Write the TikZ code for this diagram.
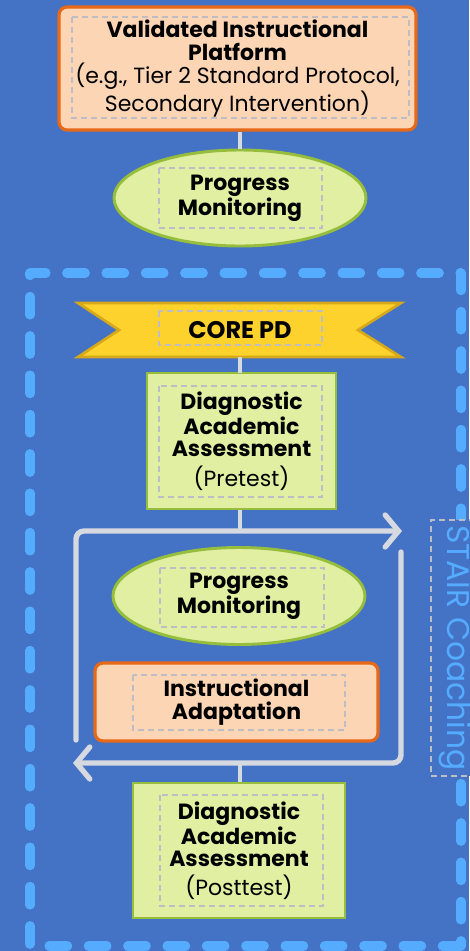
\documentclass[tikz,border=0pt]{standalone}
\usepackage{fontspec}
\setmainfont{Poppins}
\usetikzlibrary{shapes.geometric,arrows.meta}
\definecolor{bg}{RGB}{68,114,196}
\definecolor{peach}{RGB}{252,213,181}
\definecolor{orangeb}{RGB}{230,105,25}
\definecolor{lgreen}{RGB}{224,239,162}
\definecolor{gborder}{RGB}{150,190,60}
\definecolor{gold}{RGB}{253,210,45}
\definecolor{goldb}{RGB}{215,168,25}
\definecolor{framec}{RGB}{85,172,255}
\definecolor{connc}{RGB}{214,217,224}
\definecolor{dashc}{RGB}{190,188,196}
\begin{document}
\begin{tikzpicture}[x=0.75pt,y=-0.75pt,
  txt/.style={font=\fontsize{16.5pt}{16.8pt}\selectfont\bfseries, align=center, text=black},
  peachbox/.style={txt, draw=orangeb, fill=peach, line width=2.4pt, rounded corners=6pt, inner sep=0pt},
  greenbox/.style={txt, draw=gborder, fill=lgreen, line width=2.2pt, inner sep=0pt},
  greenell/.style={txt, ellipse, draw=gborder, fill=lgreen, line width=2.2pt, inner sep=0pt},
  innerdash/.style={draw=dashc, line width=1.1pt, dash pattern=on 4.5pt off 3pt},
  conn/.style={draw=connc, line width=3.2pt},
  loopline/.style={draw=connc, line width=4pt, rounded corners=6pt, line cap=round,
     -{Straight Barb[length=10pt,width=24pt,line cap=round]}},
  frameline/.style={draw=framec, line width=6.8pt, line cap=round, line join=round, dash pattern=on 14pt off 15.5pt}
]
\fill[bg] (0,0) rectangle (469,951);
\useasboundingbox (0,0) rectangle (469,951);

% outer dashed frame
\draw[frameline] (461,946) -- (30,946) -- (30,273) -- (461,273) -- cycle;

% STAIR Coaching label
\node[rotate=-90, draw=dashc, fill=bg, line width=1.1pt, dash pattern=on 4.5pt off 3pt,
      minimum width=256*0.75pt, minimum height=48*0.75pt, inner sep=0pt,
      text=framec, font=\fontsize{23.5pt}{26pt}\selectfont] (stair) at (455,648) {STAIR Coaching};

% top box
\node[peachbox, minimum width=357*0.75pt, minimum height=123*0.75pt,
      font=\fontsize{16.5pt}{17.3pt}\selectfont\bfseries] (vip) at (237.5,68.5)
  {Validated Instructional\\Platform\\\mdseries(e.g., Tier 2 Standard Protocol,\\\mdseries Secondary Intervention)};
\draw[innerdash] (72,17) rectangle (409,118);

% progress monitoring 1
\node[greenell, minimum width=252*0.75pt, minimum height=96*0.75pt] (pm1) at (240,198) {Progress\\Monitoring};
\draw[innerdash] (159,168) rectangle (322,228);
\draw[conn] (pm1.north |- vip.south) -- (pm1.north);

% CORE PD ribbon
\draw[fill=gold, draw=goldb, line width=2pt, line join=miter]
  (78,303) -- (401,303) -- (358,330) -- (401,357) -- (78,357) -- (119,330) -- cycle;
\node[txt, font=\fontsize{18pt}{20pt}\selectfont\bfseries, minimum width=323*0.75pt, minimum height=54*0.75pt, inner sep=0pt] (core) at (240,330) {CORE PD};
\draw[innerdash] (159,311) rectangle (322,345);

% pretest
\node[greenbox, minimum width=189*0.75pt, minimum height=136*0.75pt] (pre) at (241.5,441)
  {Diagnostic\\Academic\\Assessment\\[5pt]\mdseries(Pretest)};
\draw[innerdash] (159,386) rectangle (322,497);
\draw[conn] (240,357) -- (240,373);

% loop
\coordinate (jt) at (240,531);
\coordinate (jb) at (240,763);
\draw[conn] (jt |- pre.south) -- (jt);
\coordinate (l1s) at (76,740);
\coordinate (l1e) at (402,531);
\coordinate (l2s) at (401,552);
\coordinate (l2e) at (73,763);
\draw[loopline] (l1s) |- (l1e);
\draw[loopline] (l2s) |- (l2e);

% progress monitoring 2
\node[greenell, minimum width=252*0.75pt, minimum height=97*0.75pt] (pm2) at (239,596) {Progress\\Monitoring};
\draw[innerdash] (160,568) rectangle (324,627);

% instructional adaptation
\node[peachbox, minimum width=283*0.75pt, minimum height=78*0.75pt] (ia) at (236.5,702) {Instructional\\Adaptation};
\draw[innerdash] (133,675) rectangle (345,730);

% posttest
\node[greenbox, minimum width=212*0.75pt, minimum height=135*0.75pt] (post) at (239,850.5)
  {Diagnostic\\Academic\\Assessment\\[5pt]\mdseries(Posttest)};
\draw[innerdash] (160,795) rectangle (323,906);
\draw[conn] (jb) -- (jb |- post.north);
\end{tikzpicture}
\end{document}
